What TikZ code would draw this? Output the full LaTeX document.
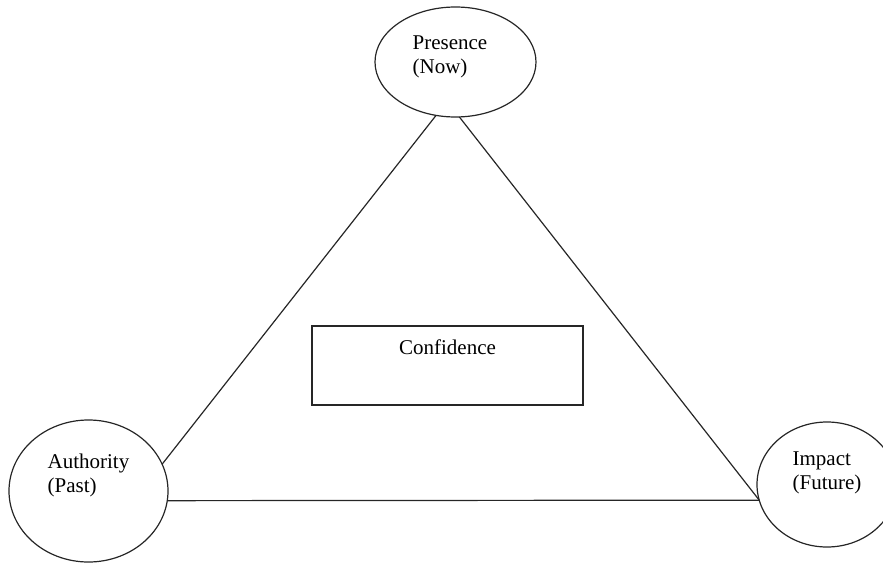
\documentclass[tikz,border=0pt]{standalone}
\usepackage{fontspec}
\setmainfont{Liberation Serif}
\usetikzlibrary{shapes.geometric}

\begin{document}
\begin{tikzpicture}[x=0.5pt, y=-0.5pt, line width=0.6pt, font=\fontsize{10.5}{12}\selectfont,
    main/.style = {draw=black!85, ellipse, inner sep=0pt, outer sep=0pt},
    box/.style = {draw=black!85, rectangle, inner sep=0pt, outer sep=0pt},
    txt/.style = {align=left, anchor=west, inner sep=0pt}]
    \useasboundingbox (0,0) rectangle (883,562);
    \node[main, minimum width=80.5pt, minimum height=55pt] (now) at (455.5,62) {};
    \node[main, minimum width=79.5pt, minimum height=71pt] (past) at (88.5,491) {};
    \node[main, minimum width=70pt, minimum height=62.5pt] (future) at (827,484.5) {};
    \node[box, minimum width=135.5pt, minimum height=39.5pt] (conf) at (447.5,365.5) {};
    \node[txt] (nowtxt) at (412,56.5) {Presence\\(Now)};
    \node[txt] (pasttxt) at (47,475) {Authority\\(Past)};
    \node[txt] (futuretxt) at (792,473) {Impact\\(Future)};
    \node[inner sep=0pt] (conftxt) at (447.5,347) {Confidence};
    \draw[-, black!85] (now.250) -- (past.20);
    \draw[-, black!85] (now.274) -- (future.193);
    \draw[-, black!85] (past.-7) -- (future.193);
\end{tikzpicture}
\end{document}
